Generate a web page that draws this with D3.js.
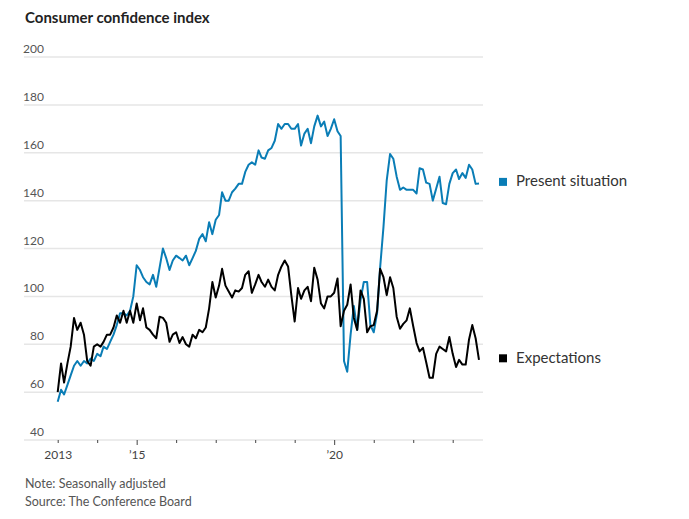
<!DOCTYPE html>
<html>
<head>
<meta charset="utf-8">
<script src="https://cdn.jsdelivr.net/npm/d3@7"></script>
<style>
  html, body { margin: 0; padding: 0; background: #fff; }
  svg { display: block; font-family: Lato, "Noto Sans", sans-serif; }
</style>
</head>
<body>
<svg id="chart" width="689" height="519"></svg>
<script>
// ---- Data (monthly, Jan 2013 – Sep 2023) ----
const startYear = 2013;
const presentSituation = [
  // 2013
  56, 61, 59, 63, 67, 71, 73, 71, 73, 72, 74, 73,
  // 2014
  76, 75, 79, 78, 81, 84, 88, 93, 93, 92, 94, 100,
  // 2015
  113, 111, 108, 106, 105, 109, 104, 112, 120, 116, 111, 115,
  // 2016
  117, 116, 115, 117, 113, 116, 119, 124, 126, 123, 131, 126,
  // 2017
  132, 134, 143.5, 140, 140, 143.5, 145, 147, 147, 152, 155, 156,
  // 2018
  155, 161, 158, 157.5, 161, 162, 165, 172, 170, 172, 172, 170,
  // 2019
  170, 172, 163, 168, 170, 164, 171, 175.5, 171, 173, 167, 170,
  // 2020
  174, 169, 167, 73, 68.5, 84, 96, 86, 98.5, 106, 106, 88,
  // 2021
  85, 93, 112, 129, 148.5, 159.5, 157.5, 150, 144.5, 145.5, 144.5, 144.5,
  // 2022
  144.5, 143, 153.5, 153, 147.5, 147, 140, 145, 150, 139, 138.5, 147,
  // 2023
  151.5, 153, 149, 151.5, 149.5, 155, 153, 147, 147.2
];
const expectations = [
  // 2013
  60, 72, 64, 72, 79, 91, 86, 89, 84, 73, 71, 79,
  // 2014
  80, 79, 81, 84, 84, 87, 92, 89, 94, 89, 94, 89,
  // 2015
  97, 90, 95, 87, 86, 84, 82.5, 91.5, 91, 89, 81, 84,
  // 2016
  85, 80.5, 83, 80, 79, 84, 82.5, 86, 85, 87, 95, 106,
  // 2017
  99.5, 104.5, 111.5, 104.5, 102, 99.5, 102.5, 102, 103.5, 109, 110.5, 101.5,
  // 2018
  105, 109, 106, 104, 107, 104, 102.5, 109, 112.5, 115, 112.5, 100.5,
  // 2019
  89.5, 103.5, 99, 102.5, 104, 98, 112, 107, 97, 95, 100, 100,
  // 2020
  101.5, 107.5, 87.5, 94, 96.5, 105, 91, 86, 102.5, 99, 85, 87.5,
  // 2021
  88, 94, 111.5, 108, 100.5, 108, 103.5, 91.5, 86.5, 88.5, 90, 95,
  // 2022
  87.5, 80.5, 77, 78.5, 72.5, 66, 66, 76, 79, 78, 77, 83,
  // 2023
  76, 70.5, 73.5, 71.5, 71.5, 82, 88, 82.5, 73.5
];
const seriesNames = ["Present situation", "Expectations"];
const seriesColors = ["#0a7db6", "#000000"];
const yTicks = [40, 60, 80, 100, 120, 140, 160, 180, 200];
const xTickYears = [2013, 2014, 2015, 2016, 2017, 2018, 2019, 2020, 2021, 2022, 2023];
const xTickLabels = {2013: "2013", 2015: "\u201915", 2020: "\u201920"};
const title = "Consumer confidence index";
const notes = ["Note: Seasonally adjusted", "Source: The Conference Board"];

// ---- Layout ----
const svg = d3.select("#chart");
const gridLeft = 24, gridRight = 483;

const x = d3.scaleTime()
  .domain([new Date(2013, 0, 1), new Date(2023, 0, 1)])
  .range([57.7, 452.7]);
const y = d3.scaleLinear().domain([40, 200]).range([440, 57]);

const dates = presentSituation.map((_, i) => new Date(startYear, i, 1));

// Title
svg.append("text")
  .attr("x", 25).attr("y", 23)
  .attr("font-size", 15).attr("font-weight", 700).attr("fill", "#222")
  .text(title);

// Gridlines
svg.append("g").selectAll("line").data(yTicks).join("line")
  .attr("x1", gridLeft).attr("x2", gridRight)
  .attr("y1", d => y(d)).attr("y2", d => y(d))
  .attr("stroke", "#e6e6e6").attr("stroke-width", 1.5);

// Y labels
svg.append("g").selectAll("text").data(yTicks).join("text")
  .attr("x", 44).attr("y", d => y(d) - 4)
  .attr("text-anchor", "end")
  .attr("font-size", 12).attr("fill", "#555")
  .text(d => d);

// X axis
const xAxis = d3.axisBottom(x)
  .tickValues(xTickYears.map(yr => new Date(yr, 0, 1)))
  .tickFormat(d => xTickLabels[d.getFullYear()] || "")
  .tickSizeOuter(0);
const gx = svg.append("g").attr("transform", "translate(0,440)").call(xAxis);
gx.select(".domain").remove();
gx.selectAll(".tick line")
  .attr("stroke", "#444")
  .attr("y2", d => (d.getFullYear() === 2015 || d.getFullYear() === 2020) ? 5 : 3);
gx.selectAll(".tick text")
  .attr("y", 10)
  .attr("font-family", "Lato, 'Noto Sans', sans-serif")
  .attr("font-size", 12).attr("fill", "#444");

// Lines
const series = [presentSituation, expectations];
const line = d3.line()
  .x((d, i) => x(dates[i]))
  .y(d => y(d));
svg.append("g").selectAll("path").data(series).join("path")
  .attr("d", d => line(d))
  .attr("fill", "none")
  .attr("stroke", (d, i) => seriesColors[i])
  .attr("stroke-width", 2)
  .attr("stroke-linejoin", "round");

// Legend at end of lines
const lg = svg.append("g").selectAll("g").data(series).join("g")
  .attr("transform", d => `translate(0,${y(d[d.length - 1])})`);
lg.append("rect")
  .attr("x", 499).attr("y", -5.5).attr("width", 8).attr("height", 8)
  .attr("fill", (d, i) => seriesColors[i]);
lg.append("text")
  .attr("x", 516).attr("y", 3)
  .attr("font-size", 15).attr("fill", "#333")
  .text((d, i) => seriesNames[i]);

// Notes
svg.append("g").selectAll("text").data(notes).join("text")
  .attr("x", 25).attr("y", (d, i) => 488 + i * 18)
  .attr("font-size", 12.5).attr("fill", "#555")
  .text(d => d);
</script>
</body>
</html>
